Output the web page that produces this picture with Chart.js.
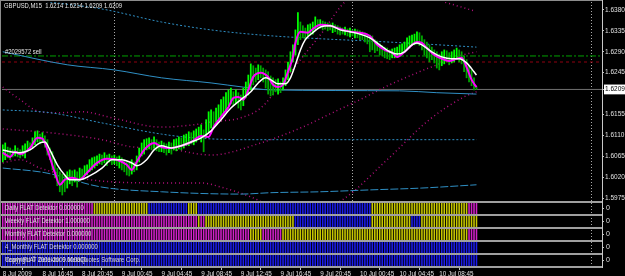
<!DOCTYPE html>
<html>
<head>
<meta charset="utf-8">
<script src="https://cdn.jsdelivr.net/npm/chart.js@4.4.1/dist/chart.umd.min.js"></script>
<style>
  html, body { margin: 0; padding: 0; background: #000; }
  canvas { display: block; }
</style>
</head>
<body>
<canvas id="chart" width="625" height="276"></canvas>
<script>
// bars are M15, bar 0 = 8 Jul 2009 12:45
const timeTickBars = [0, 16, 32, 48, 64, 80, 96, 112, 128, 144, 160, 176];
const timeTickLabels = ["8 Jul 2009", "8 Jul 16:45", "8 Jul 20:45", "9 Jul 00:45", "9 Jul 04:45", "9 Jul 08:45",
  "9 Jul 12:45", "9 Jul 16:45", "9 Jul 20:45", "10 Jul 00:45", "10 Jul 04:45", "10 Jul 08:45"];
const daySeparatorBars = [45, 141, 237];

const priceTicks = [1.6380, 1.6335, 1.6290, 1.6245, 1.6155, 1.6110, 1.6065, 1.6020, 1.5975];
const bidPrice = 1.6209;
const orderPrice = 1.6281;
const stopPrice = 1.6268;

const barHighs = [
  1.6090, 1.6094, 1.6085, 1.6083, 1.6079, 1.6088, 1.6083, 1.6079, 1.6088, 1.6092, 1.6098, 1.6094, 1.6105, 1.6118, 1.6120, 1.6113,
  1.6116, 1.6109, 1.6101, 1.6083, 1.6075, 1.6058, 1.6040, 1.6032, 1.6027, 1.6023, 1.6032, 1.6036, 1.6034, 1.6036, 1.6032, 1.6040,
  1.6038, 1.6045, 1.6047, 1.6058, 1.6062, 1.6064, 1.6066, 1.6070, 1.6068, 1.6073, 1.6068, 1.6070, 1.6066, 1.6068, 1.6064, 1.6066,
  1.6062, 1.6058, 1.6053, 1.6051, 1.6058, 1.6053, 1.6066, 1.6083, 1.6094, 1.6101, 1.6103, 1.6105, 1.6101, 1.6107, 1.6101, 1.6096,
  1.6098, 1.6094, 1.6092, 1.6096, 1.6094, 1.6101, 1.6103, 1.6107, 1.6105, 1.6111, 1.6113, 1.6118, 1.6116, 1.6120, 1.6124, 1.6128,
  1.6133, 1.6122, 1.6144, 1.6161, 1.6165, 1.6161, 1.6169, 1.6176, 1.6187, 1.6193, 1.6202, 1.6208, 1.6212, 1.6204, 1.6208, 1.6202,
  1.6197, 1.6212, 1.6225, 1.6240, 1.6264, 1.6260, 1.6255, 1.6262, 1.6260, 1.6255, 1.6251, 1.6247, 1.6238, 1.6234, 1.6230, 1.6232,
  1.6225, 1.6234, 1.6251, 1.6268, 1.6290, 1.6305, 1.6337, 1.6374, 1.6354, 1.6346, 1.6341, 1.6348, 1.6350, 1.6354, 1.6365, 1.6359,
  1.6359, 1.6356, 1.6354, 1.6352, 1.6350, 1.6352, 1.6348, 1.6346, 1.6343, 1.6341, 1.6343, 1.6339, 1.6341, 1.6337, 1.6339, 1.6337,
  1.6335, 1.6333, 1.6331, 1.6328, 1.6326, 1.6324, 1.6316, 1.6313, 1.6307, 1.6303, 1.6300, 1.6298, 1.6294, 1.6296, 1.6298, 1.6300,
  1.6305, 1.6307, 1.6311, 1.6320, 1.6324, 1.6326, 1.6328, 1.6333, 1.6331, 1.6324, 1.6316, 1.6311, 1.6305, 1.6300, 1.6294, 1.6290,
  1.6285, 1.6290, 1.6294, 1.6292, 1.6288, 1.6290, 1.6294, 1.6298, 1.6294, 1.6290, 1.6281, 1.6273, 1.6260, 1.6251, 1.6234, 1.6214
];
const barLows = [
  1.6053, 1.6058, 1.6062, 1.6058, 1.6064, 1.6066, 1.6064, 1.6062, 1.6066, 1.6062, 1.6075, 1.6079, 1.6083, 1.6090, 1.6096, 1.6092,
  1.6096, 1.6085, 1.6068, 1.6058, 1.6036, 1.6019, 1.6002, 1.5989, 1.5982, 1.5989, 1.5997, 1.6006, 1.6002, 1.6010, 1.5999, 1.6012,
  1.6019, 1.6023, 1.6025, 1.6032, 1.6036, 1.6040, 1.6045, 1.6049, 1.6047, 1.6051, 1.6045, 1.6053, 1.6047, 1.6049, 1.6045, 1.6040,
  1.6036, 1.6032, 1.6025, 1.6023, 1.6027, 1.6032, 1.6036, 1.6053, 1.6066, 1.6070, 1.6079, 1.6081, 1.6079, 1.6083, 1.6077, 1.6075,
  1.6075, 1.6073, 1.6068, 1.6073, 1.6070, 1.6079, 1.6077, 1.6081, 1.6079, 1.6083, 1.6088, 1.6088, 1.6092, 1.6090, 1.6096, 1.6101,
  1.6096, 1.6075, 1.6105, 1.6118, 1.6126, 1.6131, 1.6139, 1.6144, 1.6148, 1.6152, 1.6161, 1.6174, 1.6178, 1.6174, 1.6180, 1.6169,
  1.6165, 1.6174, 1.6191, 1.6197, 1.6208, 1.6219, 1.6225, 1.6230, 1.6234, 1.6225, 1.6212, 1.6199, 1.6195, 1.6197, 1.6204, 1.6199,
  1.6202, 1.6208, 1.6217, 1.6230, 1.6247, 1.6268, 1.6283, 1.6305, 1.6316, 1.6320, 1.6316, 1.6324, 1.6326, 1.6328, 1.6337, 1.6339,
  1.6341, 1.6337, 1.6339, 1.6335, 1.6337, 1.6331, 1.6333, 1.6328, 1.6326, 1.6328, 1.6326, 1.6324, 1.6322, 1.6324, 1.6320, 1.6320,
  1.6316, 1.6316, 1.6311, 1.6307, 1.6290, 1.6294, 1.6288, 1.6292, 1.6283, 1.6281, 1.6277, 1.6275, 1.6273, 1.6277, 1.6277, 1.6279,
  1.6281, 1.6285, 1.6288, 1.6294, 1.6298, 1.6303, 1.6305, 1.6307, 1.6303, 1.6294, 1.6283, 1.6277, 1.6268, 1.6273, 1.6266, 1.6255,
  1.6251, 1.6260, 1.6264, 1.6268, 1.6262, 1.6266, 1.6268, 1.6273, 1.6268, 1.6264, 1.6247, 1.6234, 1.6225, 1.6217, 1.6208, 1.6209
];

// moving averages, [bar, price]
const fastMa = [[0, 1.6073], [3, 1.6064], [5, 1.6075], [7, 1.6070], [11, 1.6083], [14, 1.6105], [16, 1.6103], [18, 1.6079],
  [21, 1.6030], [23, 1.6004], [25, 1.6015], [28, 1.6019], [31, 1.6015], [34, 1.6030], [38, 1.6051], [42, 1.6060],
  [46, 1.6058], [50, 1.6047], [52, 1.6036], [54, 1.6053], [57, 1.6079], [61, 1.6094], [64, 1.6085], [68, 1.6083],
  [72, 1.6088], [76, 1.6096], [80, 1.6109], [83, 1.6107], [85, 1.6128], [88, 1.6150], [91, 1.6171], [93, 1.6191],
  [95, 1.6193], [97, 1.6187], [99, 1.6208], [101, 1.6236], [104, 1.6245], [107, 1.6236], [109, 1.6219], [111, 1.6214],
  [113, 1.6219], [115, 1.6247], [117, 1.6279], [118, 1.6309], [120, 1.6333], [123, 1.6331], [125, 1.6339], [128, 1.6348],
  [132, 1.6346], [136, 1.6339], [140, 1.6333], [144, 1.6331], [148, 1.6324], [151, 1.6305], [154, 1.6294], [157, 1.6288],
  [159, 1.6279], [162, 1.6290], [164, 1.6300], [167, 1.6311], [169, 1.6309], [171, 1.6298], [174, 1.6283], [178, 1.6273],
  [180, 1.6270], [183, 1.6275], [185, 1.6277], [187, 1.6257], [189, 1.6230], [191, 1.6214]];
const slowMa = [[0, 1.6079], [3, 1.6075], [7, 1.6073], [11, 1.6079], [15, 1.6094], [17, 1.6096], [19, 1.6079], [22, 1.6047],
  [25, 1.6025], [27, 1.6015], [31, 1.6015], [35, 1.6023], [40, 1.6040], [44, 1.6058], [48, 1.6058], [52, 1.6051],
  [54, 1.6045], [58, 1.6058], [61, 1.6079], [64, 1.6088], [68, 1.6083], [72, 1.6088], [76, 1.6096], [80, 1.6105],
  [84, 1.6120], [88, 1.6144], [92, 1.6169], [96, 1.6187], [100, 1.6204], [103, 1.6223], [106, 1.6234], [108, 1.6230],
  [111, 1.6221], [114, 1.6221], [116, 1.6234], [118, 1.6262], [120, 1.6294], [122, 1.6316], [125, 1.6331], [128, 1.6343],
  [132, 1.6346], [136, 1.6337], [140, 1.6333], [144, 1.6328], [148, 1.6320], [152, 1.6305], [156, 1.6290], [159, 1.6285],
  [162, 1.6290], [165, 1.6305], [167, 1.6309], [169, 1.6305], [173, 1.6290], [177, 1.6279], [181, 1.6275], [184, 1.6275],
  [187, 1.6266], [190, 1.6247], [191, 1.6240]];

// envelope lines (blue) and band lines (dark magenta), [bar, price]
const envTop = [[0, 1.6413], [19, 1.6397], [40, 1.6382], [64, 1.6354], [84, 1.6337], [104, 1.6326], [128, 1.6318], [148, 1.6313], [169, 1.6307], [191, 1.6300]];
const envHigh = [[0, 1.6290], [26, 1.6262], [45, 1.6251], [64, 1.6234], [84, 1.6223], [97, 1.6214], [108, 1.6208], [160, 1.6206], [175, 1.6202], [191, 1.6199]];
const envLow = [[0, 1.6165], [19, 1.6159], [40, 1.6137], [64, 1.6113], [77, 1.6105], [97, 1.6101], [191, 1.6101]];
const envBottom = [[0, 1.6040], [17, 1.6030], [40, 1.5999], [64, 1.5989], [96, 1.5984], [108, 1.5987], [128, 1.5989], [148, 1.5993], [169, 1.5997], [191, 1.6004]];
const bandUpper = [[0, 1.6214], [7, 1.6187], [15, 1.6161], [23, 1.6159], [32, 1.6161], [44, 1.6148], [64, 1.6128], [77, 1.6133],
  [84, 1.6139], [96, 1.6148], [104, 1.6169], [112, 1.6219], [120, 1.6273], [128, 1.6326], [139, 1.6402], [158, 1.6428], [178, 1.6397], [190, 1.6378]];
const bandMiddle = [[0, 1.6124], [19, 1.6116], [40, 1.6101], [53, 1.6085], [64, 1.6083], [84, 1.6068], [104, 1.6094], [120, 1.6126],
  [131, 1.6154], [144, 1.6187], [156, 1.6219], [168, 1.6247], [176, 1.6264], [184, 1.6281], [191, 1.6290]];
const bandLower = [[0, 1.6051], [7, 1.6058], [15, 1.6040], [35, 1.6015], [64, 1.6008], [80, 1.6008], [88, 1.5999], [100, 1.5978],
  [108, 1.5959], [122, 1.5941], [137, 1.5972], [155, 1.6058], [172, 1.6144], [186, 1.6193], [191, 1.6204]];

// FLAT detector strips: [fromBar, toBar, state]
const stripNames = ["Daily FLAT Detektor 0.000000", "Weekly FLAT Detektor 1.000000", "Monthly FLAT Detektor 0.000000",
  "4_Monthly FLAT Detektor 0.000000", "Yearly FLAT Detektor 0.000000"];
const dailySegments = [[0, 36, "m"], [37, 58, "y"], [59, 74, "b"], [75, 78, "y"], [79, 148, "b"], [149, 187, "y"], [188, 191, "m"]];
const weeklySegments = [[0, 78, "m"], [79, 79, "y"], [80, 81, "m"], [82, 117, "y"], [118, 148, "b"], [149, 164, "y"], [165, 168, "b"], [169, 191, "y"]];
const monthlySegments = [[0, 99, "m"], [100, 104, "y"], [105, 112, "m"], [113, 187, "y"], [188, 191, "m"]];
const fourMonthlySegments = [[0, 191, "b"]];
const yearlySegments = [[0, 191, "b"]];

const X_MIN = -0.3;
const X_MAX = 241.6;
const FONT = "'Liberation Sans', Arial, sans-serif";
const stripColors = { m: "#d020c8", y: "#c8c800", b: "#1c1ce8" };
const stripIds = ["s1", "s2", "s3", "s4", "s5"];

function pairs(list) {
  return list.map(([x, y]) => ({ x, y }));
}

function flatLine(price) {
  return [{ x: X_MIN, y: price }, { x: X_MAX, y: price }];
}

function lineSet(label, data, color, width, dash) {
  return {
    type: "line",
    label,
    data,
    yAxisID: "y",
    borderColor: color,
    borderWidth: width,
    borderDash: dash || [],
    pointRadius: 0,
    cubicInterpolationMode: "monotone",
    fill: false
  };
}

function stripSet(id, segments) {
  const data = [];
  const colors = [];
  segments.forEach(([from, to, state]) => {
    for (let i = from; i <= to; i++) {
      data.push({ x: i, y: [0, 1] });
      colors.push(stripColors[state]);
    }
  });
  return {
    type: "bar",
    label: id,
    data,
    yAxisID: id,
    backgroundColor: colors,
    barThickness: 0.9,
    grouped: false,
    borderWidth: 0
  };
}

function priceBarColors() {
  return barHighs.map((h, i) => (i > 0 && h < barHighs[i - 1]) ? "#00a800" : "#00ff00");
}

function stripScale(id) {
  return {
    type: "linear",
    position: "right",
    stack: "panels",
    stackWeight: 13,
    min: 0,
    max: 1,
    afterFit: (s) => { s.width = 23; s.paddingTop = 0; s.paddingBottom = 0; },
    afterBuildTicks: (s) => { s.ticks = [{ value: 0.5 }]; },
    ticks: { callback: () => "0", color: "#e0e0e0", padding: 2, font: { family: FONT, size: 7 } },
    grid: { drawOnChartArea: false, tickLength: 2, tickColor: "#c0c0c0" },
    border: { display: false }
  };
}

// narrow label text, like the terminal's small font
function narrowText(ctx, text, x, y) {
  ctx.save();
  ctx.translate(x, y);
  ctx.scale(0.84, 1);
  ctx.fillText(text, 0, 0);
  ctx.restore();
}

const decor = {
  id: "decor",
  beforeDraw(chart) {
    const { ctx } = chart;
    ctx.save();
    ctx.fillStyle = "#000";
    ctx.fillRect(0, 0, chart.width, chart.height);
    ctx.restore();
  },
  beforeDatasetsDraw(chart) {
    const { ctx, chartArea, scales } = chart;
    ctx.save();
    ctx.strokeStyle = "#a8a8a8";
    ctx.lineWidth = 1;
    ctx.setLineDash([1, 2]);
    daySeparatorBars.forEach((b) => {
      const px = Math.round(scales.x.getPixelForValue(b)) + 0.5;
      ctx.beginPath();
      ctx.moveTo(px, chartArea.top);
      ctx.lineTo(px, chartArea.bottom);
      ctx.stroke();
    });
    ctx.restore();
  },
  afterDatasetsDraw(chart) {
    const { ctx, chartArea, scales } = chart;
    ctx.save();
    // panel separators
    ctx.fillStyle = "#a0a0a0";
    ["y"].concat(stripIds).forEach((id) => {
      const s = scales[id];
      ctx.fillRect(chartArea.left - 1, Math.round(s.bottom) - 1, chartArea.right - chartArea.left + 1, 2);
    });
    // frame
    ctx.fillStyle = "#8c8c8c";
    ctx.fillRect(0, 0, chartArea.right + 1, 1);
    ctx.fillRect(0, 0, 1, chartArea.bottom);
    ctx.fillStyle = "#c8c8c8";
    ctx.fillRect(chartArea.right, 0, 1, chartArea.bottom + 1);

    ctx.fillStyle = "#e6e6e6";
    ctx.textBaseline = "middle";
    ctx.textAlign = "left";
    ctx.font = "7px " + FONT;
    narrowText(ctx, "GBPUSD,M15  1.6214 1.6214 1.6209 1.6209", 4, 6);
    narrowText(ctx, "#2029572 sell", 5, scales.y.getPixelForValue(orderPrice) - 4);

    stripIds.forEach((id, k) => {
      const s = scales[id];
      const cy = (s.top + s.bottom) / 2;
      ctx.fillStyle = "#dcdcdc";
      narrowText(ctx, stripNames[k], 5, cy);
    });
    const s5 = scales.s5;
    narrowText(ctx, "Copyright \u00a9 2001-2009 MetaQuotes Software Corp.", 5, (s5.top + s5.bottom) / 2);
    ctx.restore();
  }
};

const datasets = [
  lineSet("slow MA", pairs(slowMa), "#ffffff", 1.5),
  lineSet("fast MA", pairs(fastMa), "#ff00ff", 2),
  {
    type: "bar",
    label: "GBPUSD,M15",
    data: barHighs.map((h, i) => ({ x: i, y: [barLows[i], h] })),
    yAxisID: "y",
    backgroundColor: priceBarColors(),
    barThickness: 1.1,
    grouped: false,
    borderWidth: 0
  },
  lineSet("env top", pairs(envTop), "#2f8fc4", 1, [2, 2]),
  lineSet("env high", pairs(envHigh), "#2f8fc4", 1),
  lineSet("env low", pairs(envLow), "#2f8fc4", 1, [2, 2]),
  lineSet("env bottom", pairs(envBottom), "#2f8fc4", 1, [8, 2]),
  lineSet("band upper", pairs(bandUpper), "#b0107a", 1.5, [1, 3]),
  lineSet("band middle", pairs(bandMiddle), "#b0107a", 1.5, [1, 3]),
  lineSet("band lower", pairs(bandLower), "#b0107a", 1.5, [1, 3]),
  lineSet("order", flatLine(orderPrice), "#00a000", 1, [6, 2, 2, 2]),
  lineSet("stop", flatLine(stopPrice), "#900010", 1.2, [3, 3]),
  lineSet("bid", flatLine(bidPrice), "#707070", 1),
  stripSet("s1", dailySegments),
  stripSet("s2", weeklySegments),
  stripSet("s3", monthlySegments),
  stripSet("s4", fourMonthlySegments),
  stripSet("s5", yearlySegments)
];

new Chart(document.getElementById("chart"), {
  type: "bar",
  data: { datasets },
  options: {
    responsive: false,
    animation: false,
    devicePixelRatio: 1,
    layout: { padding: { top: 2, left: 2, right: 0, bottom: 0 } },
    plugins: { legend: { display: false }, tooltip: { enabled: false } },
    scales: {
      x: {
        type: "linear",
        position: "bottom",
        min: X_MIN,
        max: X_MAX,
        offset: false,
        afterFit: (s) => { s.height = 9; s.paddingLeft = 0; s.paddingRight = 0; },
        afterBuildTicks: (s) => { s.ticks = timeTickBars.map((v) => ({ value: v })); },
        ticks: {
          callback: (v, i) => timeTickLabels[i],
          align: "start",
          autoSkip: false,
          maxRotation: 0,
          minRotation: 0,
          padding: 0,
          color: "#e0e0e0",
          font: { family: FONT, size: 6.3 }
        },
        grid: { drawOnChartArea: false, tickLength: 3, tickColor: "#c0c0c0" },
        border: { display: false }
      },
      y: {
        type: "linear",
        position: "right",
        stack: "panels",
        stackWeight: 200,
        min: 1.5967,
        max: 1.6397,
        afterFit: (s) => { s.width = 23; s.paddingTop = 0; s.paddingBottom = 0; },
        afterBuildTicks: (s) => { s.ticks = priceTicks.concat([bidPrice]).map((v) => ({ value: v })); },
        ticks: {
          callback: (v) => Number(v).toFixed(4),
          autoSkip: false,
          color: (c) => (c.tick && c.tick.value === bidPrice) ? "#000" : "#e0e0e0",
          showLabelBackdrop: true,
          backdropColor: (c) => (c.tick && c.tick.value === bidPrice) ? "#ffffff" : "rgba(0,0,0,0)",
          backdropPadding: { top: 1, bottom: 1, left: 1, right: 2 },
          padding: 1,
          font: { family: FONT, size: 6.5 }
        },
        grid: { drawOnChartArea: false, tickLength: 2, tickColor: "#c0c0c0" },
        border: { display: false }
      },
      s1: stripScale("s1"),
      s2: stripScale("s2"),
      s3: stripScale("s3"),
      s4: stripScale("s4"),
      s5: stripScale("s5")
    }
  },
  plugins: [decor]
});
</script>
</body>
</html>
